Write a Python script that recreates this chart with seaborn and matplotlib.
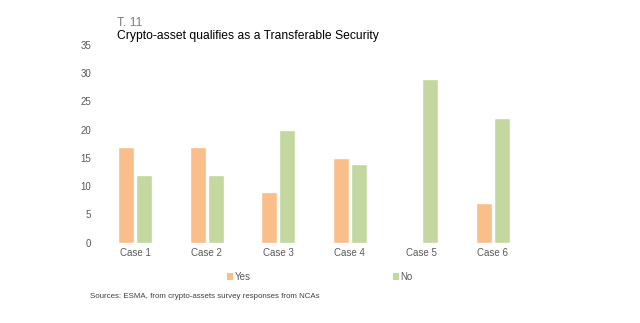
import matplotlib
matplotlib.use("Agg")
import matplotlib.pyplot as plt
import seaborn as sns
import pandas as pd
from matplotlib.patches import Patch

categories = ["Case 1", "Case 2", "Case 3", "Case 4", "Case 5", "Case 6"]
yes_values = [17, 17, 9, 15, 0, 7]
no_values = [12, 12, 20, 14, 29, 22]
series_names = ["Yes", "No"]
yticks = [0, 5, 10, 15, 20, 25, 30, 35]

df = pd.DataFrame({
    "case": categories * 2,
    "value": yes_values + no_values,
    "series": [series_names[0]] * len(categories) + [series_names[1]] * len(categories),
})

sns.set_theme(style="white")
plt.rcParams["font.family"] = ["Liberation Sans", "DejaVu Sans"]

colors = {"Yes": "#F9BE8A", "No": "#C3D89E"}
fig = plt.figure(figsize=(6.4, 3.23), dpi=100)
ax = fig.add_axes([99.5 / 640, 1 - 242.7 / 323, 429 / 640, 198 / 323])
sns.barplot(data=df, x="case", y="value", hue="series", palette=colors,
            width=0.51, gap=0.125, ax=ax, legend=False, saturation=1)
ax.set_ylim(0, 35)
ax.set_xlim(-0.5, 5.5)
ax.set_yticks(yticks)
ax.set_xlabel("")
ax.set_ylabel("")
for s in ax.spines.values():
    s.set_visible(False)
ax.tick_params(axis="both", length=0, labelsize=7, colors="#595959", pad=4)
ax.tick_params(axis="y", pad=6)

fig.text(117 / 640, 1 - 23 / 323, "T. 11", fontsize=8.7, color="#7f7f7f", va="center")
fig.text(117 / 640, 1 - 36 / 323, "Crypto-asset qualifies as a Transferable Security",
         fontsize=8.7, color="#000000", va="center")
fig.text(90 / 640, 1 - 297 / 323, "Sources: ESMA, from crypto-assets survey responses from NCAs",
         fontsize=5.7, color="#404040", va="center")

handles = [Patch(facecolor=colors[n], edgecolor="none", label=n) for n in series_names]
leg = fig.legend(handles=handles, loc="center", bbox_to_anchor=(0.5, 1 - 277 / 323), ncol=2,
                 frameon=False, fontsize=7, handlelength=0.6, handleheight=0.6,
                 handletextpad=0.2, columnspacing=14.6)
for t in leg.get_texts():
    t.set_color("#595959")

fig.savefig("out.png", dpi=100)
